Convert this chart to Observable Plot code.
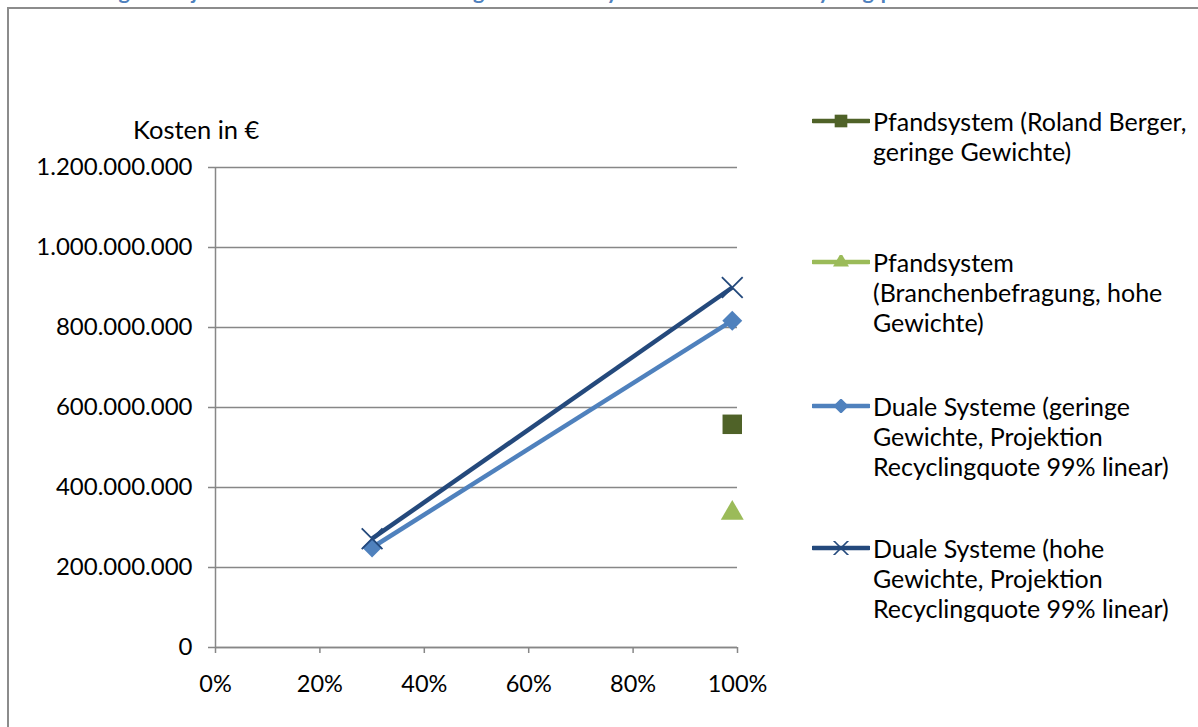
<!DOCTYPE html>
<html>
<head>
<meta charset="utf-8">
<script src="https://cdn.jsdelivr.net/npm/d3@7"></script>
<script src="https://cdn.jsdelivr.net/npm/@observablehq/plot@0.6"></script>
<style>
  html, body { margin: 0; padding: 0; background: #fff; overflow: hidden; }
  body { width: 1198px; height: 727px; position: relative; font-family: Lato, "Open Sans", sans-serif; color: #000; }
  #title { position: absolute; left: 32px; top: -19px; font: bold 21.5px/21.5px Lato, sans-serif; color: #4F81BD; white-space: nowrap; }
  #frame { position: absolute; left: 7px; top: 7px; width: 1400px; height: 900px; border: 2px solid #8c8c8c; box-sizing: border-box; }
  #chart { position: absolute; left: 0; top: 0; }
  #ylabel { position: absolute; left: 133px; top: 114px; font-size: 25.5px; white-space: nowrap; }
  #legend { position: absolute; left: 812px; top: 0; }
  .item { position: absolute; left: 0; display: flex; align-items: flex-start; }
  .item svg { flex: none; margin-top: 8px; }
  .item div { margin-left: 3px; font-size: 25px; line-height: 30px; white-space: nowrap; }
</style>
</head>
<body>
<div id="title">Abbildung 9: Projektion der Kostenentwicklung der dualen Systeme bis hin zur Recyclingquote</div>
<div id="frame"></div>
<div id="chart"></div>
<div id="ylabel">Kosten in €</div>
<div id="legend"></div>
<script>
// ---- data ----
const seriesNames = [
  "Pfandsystem (Roland Berger, geringe Gewichte)",
  "Pfandsystem (Branchenbefragung, hohe Gewichte)",
  "Duale Systeme (geringe Gewichte, Projektion Recyclingquote 99% linear)",
  "Duale Systeme (hohe Gewichte, Projektion Recyclingquote 99% linear)"
];
const legendLines = [
  ["Pfandsystem (Roland Berger,", "geringe Gewichte)"],
  ["Pfandsystem", "(Branchenbefragung, hohe", "Gewichte)"],
  ["Duale Systeme (geringe", "Gewichte, Projektion", "Recyclingquote 99% linear)"],
  ["Duale Systeme (hohe", "Gewichte, Projektion", "Recyclingquote 99% linear)"]
];
const seriesColors = ["#4F6228", "#9BBB59", "#4F81BD", "#24497C"];
const seriesSymbols = ["square", "triangle", "diamond2", "times"];

const pfandRolandX = [0.99];
const pfandRolandY = [558000000];
const pfandBrancheX = [0.99];
const pfandBrancheY = [336000000];
const dualGeringX = [0.30, 0.99];
const dualGeringY = [250000000, 817000000];
const dualHochX = [0.30, 0.99];
const dualHochY = [272000000, 900000000];

const xTicks = [0, 0.2, 0.4, 0.6, 0.8, 1.0];
const yTicks = [0, 200000000, 400000000, 600000000, 800000000, 1000000000, 1200000000];

// ---- build ----
const toRows = (xs, ys, s) => xs.map((x, i) => ({x, y: ys[i], s}));
const rows = [
  ...toRows(pfandRolandX, pfandRolandY, 0),
  ...toRows(pfandBrancheX, pfandBrancheY, 1),
  ...toRows(dualGeringX, dualGeringY, 2),
  ...toRows(dualHochX, dualHochY, 3)
];
const lineRows = rows.filter(d => d.s >= 2);
const de = d3.formatLocale({decimal: ",", thousands: ".", grouping: [3], currency: ["", "€"]});
const yFmt = de.format(",d");
const xFmt = d => Math.round(d * 100) + "%";

const axisColor = "#878787";
const chart = Plot.plot({
  width: 1198,
  height: 727,
  marginLeft: 215,
  marginRight: 461,
  marginTop: 167,
  marginBottom: 80,
  style: {fontFamily: "Lato, 'Open Sans', sans-serif", fontSize: "24px", color: "#000", background: "transparent", overflow: "visible"},
  x: {domain: [0, 1], ticks: xTicks, tickFormat: xFmt, label: null},
  y: {domain: [0, 1200000000], ticks: yTicks, tickFormat: yFmt, label: null},
  marks: [
    Plot.gridY(yTicks, {stroke: axisColor, strokeOpacity: 1, strokeWidth: 1.5}),
    Plot.ruleX([0], {stroke: axisColor, strokeWidth: 1.5}),
    Plot.ruleY([0], {stroke: axisColor, strokeWidth: 1.5}),
    Plot.axisY(yTicks, {tickFormat: yFmt, tickSize: 7, tickPadding: 16, stroke: axisColor, strokeWidth: 1.5, fontSize: 24, fill: "#000"}),
    Plot.axisX(xTicks, {tickFormat: xFmt, tickSize: 6, tickPadding: 22, stroke: axisColor, strokeWidth: 1.5, fontSize: 23.5, fill: "#000"}),
    Plot.line(lineRows, {x: "x", y: "y", z: "s", stroke: d => seriesColors[d.s], strokeWidth: 4.5, strokeLinecap: "butt"}),
    Plot.dot(rows.filter(d => d.s === 0), {x: "x", y: "y", symbol: "square", r: 11, fill: seriesColors[0], stroke: "none"}),
    Plot.dot(rows.filter(d => d.s === 1), {x: "x", y: "y", symbol: "triangle", r: 8.5, fill: seriesColors[1], stroke: "none"}),
    Plot.dot(rows.filter(d => d.s === 2), {x: "x", y: "y", symbol: "diamond2", r: 9, fill: seriesColors[2], stroke: "none"}),
    Plot.dot(rows.filter(d => d.s === 3), {x: "x", y: "y", symbol: "times", r: 9.5, fill: "none", stroke: seriesColors[3], strokeWidth: 1.8})
  ]
});
document.getElementById("chart").appendChild(chart);

// ---- legend ----
const legendTops = [106, 247, 391, 533];
const legend = document.getElementById("legend");
seriesNames.forEach((name, i) => {
  const item = document.createElement("div");
  item.className = "item";
  item.style.top = legendTops[i] + "px";
  item.title = name;
  const sym = d3.symbol().type({
    square: d3.symbolSquare, triangle: d3.symbolTriangle,
    diamond2: d3.symbolDiamond2, times: d3.symbolTimes
  }[seriesSymbols[i]]).size(i === 0 ? 160 : i === 1 ? 110 : 150)();
  const fill = seriesSymbols[i] === "times" ? "none" : seriesColors[i];
  const stroke = seriesSymbols[i] === "times" ? seriesColors[i] : "none";
  item.innerHTML = `<svg width="58" height="14" viewBox="0 0 58 14">
      <line x1="1" x2="57" y1="7" y2="7" stroke="${seriesColors[i]}" stroke-width="4.5" stroke-linecap="round"/>
      <path d="${sym}" transform="translate(29,7)" fill="${fill}" stroke="${stroke}" stroke-width="1.6"/>
    </svg><div>${legendLines[i].join("<br>")}</div>`;
  legend.appendChild(item);
});
</script>
</body>
</html>
